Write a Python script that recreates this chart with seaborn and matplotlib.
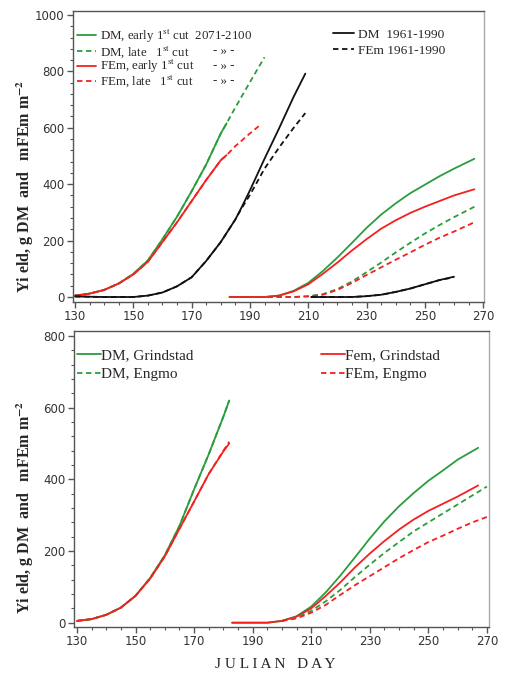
import numpy as np
import pandas as pd
import matplotlib
matplotlib.use("Agg")
import matplotlib.pyplot as plt
from matplotlib.ticker import MultipleLocator
from matplotlib.lines import Line2D
import seaborn as sns

# ---------------- data: top panel (2071-2100 vs 1961-1990) ----------------
days_c1 = [130, 135, 140, 145, 150, 155, 160, 165, 170, 175, 180, 182]
dm_early_c1 = [5, 12, 25, 48, 82, 130, 205, 285, 375, 470, 580, 616]
fem_early_c1 = [5, 12, 25, 48, 80, 125, 195, 265, 340, 415, 485, 503]
days_late_c1 = [130, 135, 140, 145, 150, 155, 160, 165, 170, 175, 180, 182, 185, 190, 195]
dm_late_c1 = [5, 12, 25, 48, 82, 130, 205, 285, 375, 470, 580, 616, 672, 762, 850]
days_late_fem_c1 = [130, 135, 140, 145, 150, 155, 160, 165, 170, 175, 180, 182, 185, 190, 194]
fem_late_c1 = [5, 12, 25, 48, 80, 125, 195, 265, 340, 415, 485, 503, 535, 580, 614]

days_ref_c1 = [130, 135, 140, 145, 150, 155, 160, 165, 170, 175, 180, 185, 187, 190, 195, 200, 205, 209]
dm_ref_c1 = [2, 1, 0, 0, 0, 5, 16, 38, 70, 128, 195, 275, 315, 378, 490, 598, 710, 792]
fem_ref_c1 = [2, 1, 0, 0, 0, 5, 16, 38, 70, 128, 195, 275, 312, 362, 455, 530, 600, 652]

days_c2 = [183, 190, 195, 200, 205, 210, 215, 220, 225, 230, 235, 240, 245, 250, 255, 260, 267]
dm_early_c2 = [0, 0, 0, 5, 22, 50, 92, 140, 192, 245, 292, 332, 368, 398, 428, 455, 490]
fem_early_c2 = [0, 0, 0, 5, 20, 45, 82, 122, 165, 205, 242, 272, 298, 320, 340, 360, 382]
days_late_c2 = [196, 200, 205, 210, 215, 220, 225, 230, 235, 240, 245, 250, 255, 260, 267]
dm_late_c2 = [0, 0, 0, 3, 10, 28, 55, 88, 122, 158, 192, 225, 255, 283, 320]
fem_late_c2 = [0, 0, 0, 2, 8, 25, 50, 78, 105, 132, 158, 185, 210, 232, 265]

days_ref_c2 = [211, 215, 220, 225, 230, 235, 240, 245, 250, 255, 260]
dm_ref_c2 = [0, 0, 0, 0, 3, 8, 18, 30, 45, 60, 72]
fem_ref_c2 = [0, 0, 0, 0, 3, 8, 18, 30, 45, 60, 70]

# ---------------- data: bottom panel (Grindstad vs Engmo) ----------------
days_b1 = [130, 135, 140, 145, 150, 155, 160, 165, 170, 175, 180, 182]
dm_grind_c1 = [5, 10, 22, 42, 75, 125, 188, 270, 372, 470, 575, 620]
fem_grind_c1 = [5, 10, 22, 42, 75, 123, 185, 262, 338, 415, 478, 500]
dm_engmo_c1 = [5, 10, 22, 42, 75, 125, 188, 270, 372, 470, 575, 620]
fem_engmo_c1 = [5, 10, 22, 42, 75, 123, 185, 262, 338, 415, 480, 505]

days_b2 = [183, 190, 195, 200, 205, 210, 215, 220, 225, 230, 235, 240, 245, 250, 255, 260, 267]
dm_grind_c2 = [0, 0, 0, 5, 18, 45, 85, 132, 183, 235, 283, 325, 362, 396, 425, 455, 488]
fem_grind_c2 = [0, 0, 0, 5, 17, 40, 75, 113, 155, 193, 228, 260, 288, 312, 332, 352, 383]
days_b2e = [200, 205, 210, 215, 220, 225, 230, 235, 240, 245, 250, 255, 260, 265, 270]
dm_engmo_c2 = [5, 15, 33, 60, 92, 128, 162, 195, 225, 255, 280, 305, 330, 355, 380]
fem_engmo_c2 = [5, 12, 28, 50, 78, 105, 130, 155, 180, 203, 225, 243, 262, 280, 295]

x_ticks = [130, 150, 170, 190, 210, 230, 250, 270]

legend_top_left = ["DM, early 1$^{\\rm st}$ cut  2071-2100",
                   "DM, late   1$^{\\rm st}$ cut",
                   "FEm, early 1$^{\\rm st}$ cut",
                   "FEm, late   1$^{\\rm st}$ cut"]
legend_top_right = ["DM  1961-1990", "FEm 1961-1990"]
legend_bottom_left = ["DM, Grindstad", "DM, Engmo"]
legend_bottom_right = ["Fem, Grindstad", "FEm, Engmo"]

# ---------------- style ----------------
sns.set_style("ticks")
plt.rcParams["font.family"] = ["DejaVu Sans"]
plt.rcParams["mathtext.fontset"] = "stix"

GREEN = "#2a9d3c"
RED = "#f42020"
BLACK = "#111111"
LW = 1.3
DASH = (3, 2)
SERIF = "Liberation Serif"

fig = plt.figure(figsize=(5.06, 6.75), dpi=100)
AX1 = (73, 11, 484, 302)    # left, top, right, bottom in pixels
AX2 = (74, 331, 489, 627)
ax1 = fig.add_axes([AX1[0] / 506, (675 - AX1[3]) / 675,
                    (AX1[2] - AX1[0]) / 506, (AX1[3] - AX1[1]) / 675])
ax2 = fig.add_axes([AX2[0] / 506, (675 - AX2[3]) / 675,
                    (AX2[2] - AX2[0]) / 506, (AX2[3] - AX2[1]) / 675])


def line(ax, x, y, color, dashed=False):
    sns.lineplot(x=x, y=y, ax=ax, color=color, linewidth=LW,
                 linestyle="--" if dashed else "-",
                 legend=False, estimator=None, sort=False)
    if dashed:
        ax.lines[-1].set_dashes(DASH)


# top panel
line(ax1, days_late_c1, dm_late_c1, GREEN, True)
line(ax1, days_late_fem_c1, fem_late_c1, RED, True)
line(ax1, days_c1, dm_early_c1, GREEN)
line(ax1, days_c1, fem_early_c1, RED)
line(ax1, days_ref_c1, fem_ref_c1, BLACK, True)
line(ax1, days_ref_c1, dm_ref_c1, BLACK)
line(ax1, days_c2, dm_early_c2, GREEN)
line(ax1, days_c2, fem_early_c2, RED)
line(ax1, days_late_c2, dm_late_c2, GREEN, True)
line(ax1, days_late_c2, fem_late_c2, RED, True)
line(ax1, days_ref_c2, fem_ref_c2, BLACK, True)
line(ax1, days_ref_c2, dm_ref_c2, BLACK)

# bottom panel
line(ax2, days_b1, dm_engmo_c1, GREEN, True)
line(ax2, days_b1, fem_engmo_c1, RED, True)
line(ax2, days_b1, dm_grind_c1, GREEN)
line(ax2, days_b1, fem_grind_c1, RED)
line(ax2, days_b2, dm_grind_c2, GREEN)
line(ax2, days_b2, fem_grind_c2, RED)
line(ax2, days_b2e, dm_engmo_c2, GREEN, True)
line(ax2, days_b2e, fem_engmo_c2, RED, True)

ax1.set_xlim(129.3, 270.3)
ax1.set_ylim(-17.7, 1014)
ax1.yaxis.set_major_locator(MultipleLocator(200))
ax1.yaxis.set_minor_locator(MultipleLocator(40))
ax2.set_xlim(129.0, 270.7)
ax2.set_ylim(-12, 814)
ax2.yaxis.set_major_locator(MultipleLocator(200))
ax2.yaxis.set_minor_locator(MultipleLocator(40))

for ax in (ax1, ax2):
    ax.set_xticks(x_ticks)
    ax.xaxis.set_minor_locator(MultipleLocator(5))
    ax.set_xlabel("")
    ax.set_ylabel("")
    for s in ("left", "bottom", "top"):
        ax.spines[s].set_color("#555555")
        ax.spines[s].set_linewidth(1.0)
    ax.spines["right"].set_color("#aaaaaa")
    ax.spines["right"].set_linewidth(1.0)
    ax.tick_params(which="major", direction="out", length=4, width=1.0,
                   color="#555555", labelsize=8.5, labelcolor="#333333", pad=2)
    ax.tick_params(which="minor", direction="out", length=2.5, width=0.8,
                   color="#555555")


def h(color, dashed=False):
    ln = Line2D([], [], color=color, linewidth=LW, linestyle="-")
    if dashed:
        ln.set_dashes(DASH)
    return ln


def row_legend(ax, box, handle, label, x_px, y_px, size, hl, pad):
    l, t, r, b = box
    fx = (x_px - l) / (r - l)
    fy = 1 - (y_px - t) / (b - t)
    leg = ax.legend([handle], [label], loc="center left", bbox_to_anchor=(fx, fy),
                    frameon=False, prop={"family": SERIF, "size": size},
                    handlelength=hl, handletextpad=pad, borderaxespad=0,
                    borderpad=0)
    ax.add_artist(leg)
    ax.legend_ = None  # avoid drawing the same legend twice
    return leg


# legends (top)
top_handles = [h(GREEN), h(GREEN, True), h(RED), h(RED, True)]
top_rows = [36, 52, 66.5, 81.5]
for hd, lab, yy in zip(top_handles, legend_top_left, top_rows):
    row_legend(ax1, AX1, hd, lab, 77, yy, 9.3, 1.45, 0.3)
for hd, lab, yy in zip([h(BLACK), h(BLACK, True)], [legend_top_right[0], legend_top_right[1]],
                       [35, 50.5]):
    row_legend(ax1, AX1, hd, lab, 333, yy, 9.6, 1.6, 0.3)
for yy in (50.7, 65.7, 81):
    ax1.text((213 - 73) / 411, 1 - (yy - 11) / 291, "- » -", transform=ax1.transAxes,
             fontfamily=SERIF, fontsize=9.3, va="center", ha="left")

# legends (bottom)
bot_rows = [355, 374]
for hd, lab, yy in zip([h(GREEN), h(GREEN, True)], legend_bottom_left, bot_rows):
    row_legend(ax2, AX2, hd, lab, 77, yy, 11, 1.55, 0.0)
for hd, lab, yy in zip([h(RED), h(RED, True)], legend_bottom_right, bot_rows):
    row_legend(ax2, AX2, hd, lab, 321, yy, 11, 1.55, 0.0)

# y labels
ylab = "Yi eld, g DM  and   mFEm m$^{\\mathbf{-2}}$"
fig.text(25 / 506, 1 - 186 / 675, ylab, rotation=90, ha="center", va="center",
         fontfamily=SERIF, fontweight="bold", fontsize=11.5)
fig.text(25 / 506, 1 - 507 / 675, ylab, rotation=90, ha="center", va="center",
         fontfamily=SERIF, fontweight="bold", fontsize=11.5)

# x label
fig.text(275 / 506, 1 - 665 / 675, "J U L I A N   D A Y", ha="center", va="center",
         fontfamily=SERIF, fontsize=11)

fig.savefig("out.png", dpi=100)
